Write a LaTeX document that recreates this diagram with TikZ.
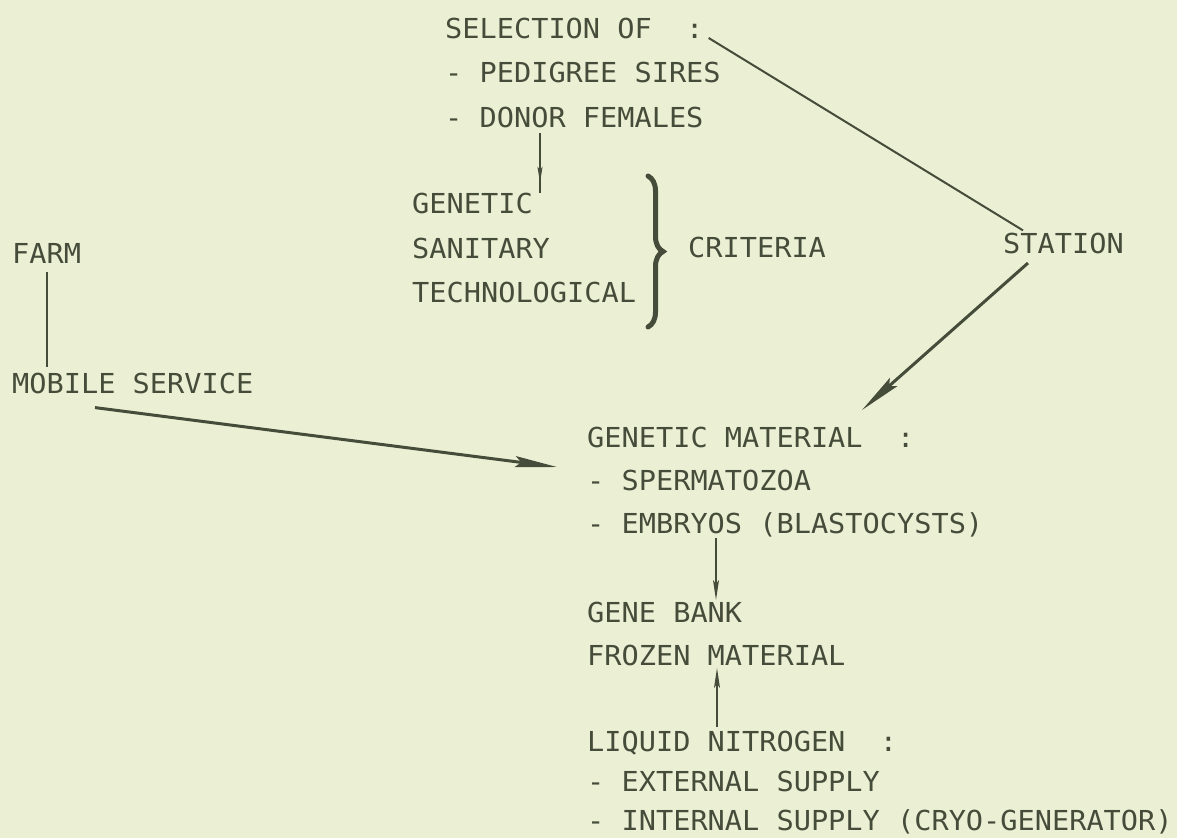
\documentclass[tikz,border=0pt]{standalone}
\usepackage{fontspec}
\setmonofont[FakeStretch=1.04]{DejaVu Sans Mono}
\usepackage{tikz}
\usetikzlibrary{arrows.meta,decorations.pathreplacing,decorations.markings}
\definecolor{paper}{RGB}{235,239,212}
\definecolor{ink}{RGB}{70,76,58}
\tikzset{
txt/.style={anchor=base west,inner sep=0pt,text=ink,font=\ttfamily\fontsize{27.5}{33}\selectfont},
fineline/.style={color=ink,line width=2pt},
heavyline/.style={color=ink,line width=3pt,-{Stealth[length=42pt,width=11pt,inset=6pt]}},
smallarr/.style={color=ink,line width=1.5pt,-{Stealth[length=20pt,width=6pt,inset=4pt]}},
midarr/.style={color=ink,line width=1.5pt,postaction={decorate},
  decoration={markings,mark=at position 0.83 with {\arrow{Stealth[length=16pt,width=5pt,inset=3pt]}}}}
}
\begin{document}
\begin{tikzpicture}[x=1pt,y=-1pt]
\fill[paper](0,0)rectangle(1177,838);
\useasboundingbox(0,0)rectangle(1177,838);
% selection and criteria
\node[txt](sel1)at(445,38){SELECTION OF~~:};
\node[txt](sel2)at(445,82){- PEDIGREE SIRES};
\node[txt](sel3)at(445,127){- DONOR FEMALES};
\node[txt](gen)at(412,213){GENETIC};
\node[txt](san)at(412,258){SANITARY};
\node[txt](tech)at(412,302){TECHNOLOGICAL};
\node[txt](crit)at(688,257){CRITERIA};
\draw[color=ink,line width=5pt,line cap=round,decorate,decoration={brace,amplitude=15pt}](648,176)--(648,327);
% farm and station
\node[txt](farm)at(12,263){FARM};
\node[txt](mobile)at(12,393){MOBILE SERVICE};
\node[txt](station)at(1003,253){STATION};
% material, bank, nitrogen
\node[txt](mat1)at(587,447){GENETIC MATERIAL~~:};
\node[txt](mat2)at(587,490){- SPERMATOZOA};
\node[txt](mat3)at(587,533){- EMBRYOS (BLASTOCYSTS)};
\node[txt](bank1)at(587,622){GENE BANK};
\node[txt](bank2)at(587,665){FROZEN MATERIAL};
\node[txt](liq1)at(587,751){LIQUID NITROGEN~~:};
\node[txt](liq2)at(587,791){- EXTERNAL SUPPLY};
\node[txt](liq3)at(587,830){- INTERNAL SUPPLY (CRYO-GENERATOR)};
% connectors
\draw[fineline,shorten <=9pt,shorten >=5pt](farm.south)--(farm.south|-mobile.north);
\draw[heavyline]([xshift=83pt,yshift=-14pt]mobile.south west)--([xshift=-30pt,yshift=-20pt]mat1.base west);
\draw[fineline]([xshift=5pt]sel1.base east)--([xshift=20pt,yshift=2pt]station.north west);
\draw[heavyline]([xshift=25pt,yshift=-10pt]station.base west)--([xshift=275pt,yshift=37pt]mat1.base west);
\draw[midarr]([xshift=95pt,yshift=-6pt]sel3.base west)--([xshift=128pt,yshift=20pt]gen.base west);
\draw[smallarr]([xshift=129pt,yshift=-5pt]mat3.base west)--([xshift=129pt,yshift=22pt]bank1.base west);
\draw[smallarr]([xshift=130pt,yshift=24pt]liq1.base west)--([xshift=130pt,yshift=-3pt]bank2.base west);
\end{tikzpicture}
\end{document}
